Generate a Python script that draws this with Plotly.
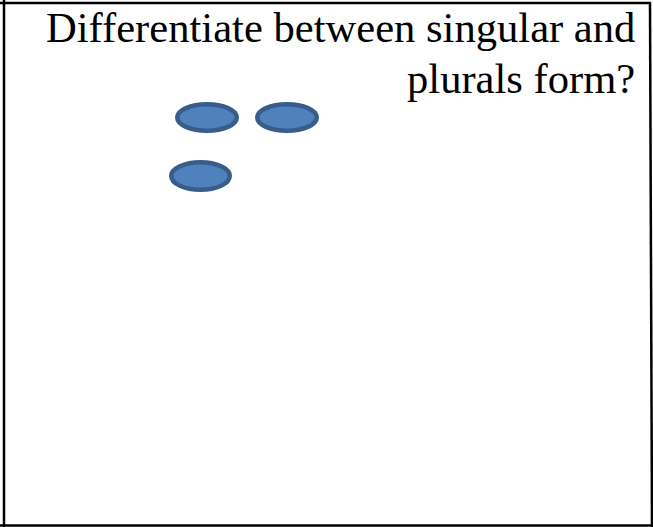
import plotly.graph_objects as go

# Content
title_lines = ["Differentiate between singular and", "plurals form?"]
# Ellipse centres (slide coordinates, px) and sizes
ell_cx = [207, 287, 200.5]
ell_cy = [117.5, 117.5, 176]
ell_w = [64, 64, 63]
ell_h = [31, 31, 32]

W, H = 653, 527
fig = go.Figure()

fill = "#4F81BD"
edge = "#385D8A"
lw = 4.5
for cx, cy, w, h in zip(ell_cx, ell_cy, ell_w, ell_h):
    fig.add_shape(type="circle", xref="x", yref="y",
                  x0=cx - w / 2 + lw / 2, x1=cx + w / 2 - lw / 2,
                  y0=cy - h / 2 + lw / 2, y1=cy + h / 2 - lw / 2,
                  fillcolor=fill, line=dict(color=edge, width=lw))

# Frame lines
frame = dict(color="black", width=2.5)
fig.add_shape(type="line", x0=0, x1=651, y0=3, y1=3, line=frame)
fig.add_shape(type="line", x0=4, x1=4, y0=0, y1=527, line=frame)
fig.add_shape(type="line", x0=0, x1=653, y0=525.5, y1=525.5, line=frame)
fig.add_shape(type="line", x0=650, x1=652, y0=2, y1=527, line=frame)

baselines = [27.8, 78.6]
for line, y in zip(title_lines, baselines):
    fig.add_annotation(x=637, y=y, xref="x", yref="y", text=line,
                       showarrow=False, xanchor="right", yanchor="middle",
                       font=dict(family="Liberation Serif", size=42.6, color="black"))

fig.update_xaxes(range=[0, W], visible=False, fixedrange=True)
fig.update_yaxes(range=[H, 0], visible=False, fixedrange=True)
fig.update_layout(width=W, height=H, autosize=False,
                  margin=dict(l=0, r=0, t=0, b=0),
                  plot_bgcolor="white", paper_bgcolor="white",
                  showlegend=False)
fig.write_html("out.html", config={"displayModeBar": False},
               post_script="document.body.style.margin='0';document.body.style.overflow='hidden';")
